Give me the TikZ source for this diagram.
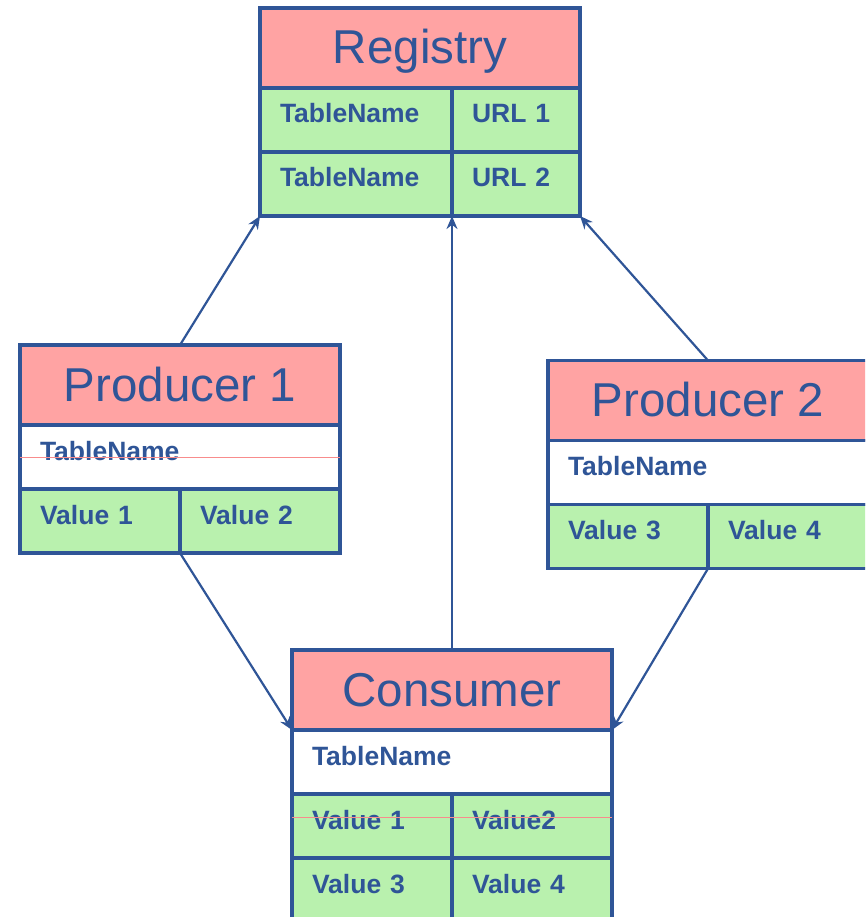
\documentclass[tikz,border=0pt]{standalone}
\usepackage{fontspec}
\setmainfont{Liberation Sans}
\usetikzlibrary{positioning,arrows.meta}
\definecolor{regblue}{RGB}{47,85,151}
\definecolor{headpink}{RGB}{255,163,163}
\definecolor{cellgreen}{RGB}{185,241,174}
\definecolor{straypink}{RGB}{248,140,140}
\tikzset{
  head/.style={draw=regblue, fill=headpink, line width=3.2pt, outer sep=0pt,
    minimum width=320pt, minimum height=80pt, inner sep=0pt,
    text height=34pt, text depth=2pt, text=regblue,
    font=\fontsize{47.5}{47.5}\selectfont},
  cell/.style={draw=regblue, line width=3.2pt, outer sep=0pt, minimum height=64pt,
    inner xsep=20pt, inner ysep=0pt, text height=18pt, text depth=12pt,
    text=regblue, align=left, font=\bfseries\fontsize{26.5}{26.5}\selectfont},
  full/.style={cell, fill=white, text width=280pt},
  wide/.style={cell, fill=cellgreen, text width=152pt},
  half/.style={cell, fill=cellgreen, text width=120pt},
  narrow/.style={cell, fill=cellgreen, text width=88pt},
  link/.style={draw=regblue, line width=2.2pt, -{Stealth[length=13pt,width=11pt]}},
  stray/.style={draw=straypink, line width=1pt}
}
\begin{document}
\begin{tikzpicture}[x=1pt,y=-1pt]
\path[use as bounding box, clip] (0,0) rectangle (865,917);
% registry
\node[head] (reg) at (420,48) {Registry};
\node[wide, anchor=north west] (reg11) at (reg.south west) {TableName};
\node[narrow, right=0pt of reg11] (reg12) {URL 1};
\node[wide, below=0pt of reg11] (reg21) {TableName};
\node[narrow, right=0pt of reg21] (reg22) {URL 2};
% producer 1
\node[head] (prodA) at (180,385) {Producer 1};
\node[full, below=0pt of prodA] (prodAname) {TableName};
\node[half, anchor=north west] (prodA1) at (prodAname.south west) {Value 1};
\node[half, right=0pt of prodA1] (prodA2) {Value 2};
\draw[stray] (prodAname.west) -- (prodAname.east);
% producer 2
\node[head] (prodB) at (708,400.5) {Producer 2};
\node[full, below=0pt of prodB] (prodBname) {TableName};
\node[half, anchor=north west] (prodB1) at (prodBname.south west) {Value 3};
\node[half, right=0pt of prodB1] (prodB2) {Value 4};
% consumer
\node[head] (cons) at (452,690) {Consumer};
\node[full, below=0pt of cons] (consname) {TableName};
\node[half, anchor=north west] (consA1) at (consname.south west) {Value 1};
\node[half, right=0pt of consA1] (consA2) {Value2};
\node[half, below=0pt of consA1] (consB1) {Value 3};
\node[half, right=0pt of consB1] (consB2) {Value 4};
\draw[stray] ([yshift=9pt]consA1.west) -- ([yshift=9pt]consA2.east);
% links
\draw[link] (prodA.north) -- (reg21.south west);
\draw[link] (prodB.north) -- (reg22.south east);
\draw[link] (cons.north) -- (reg21.south east);
\draw[link] (prodA1.south east) -- (cons.south west);
\draw[link] (prodB1.south east) -- (cons.south east);
\end{tikzpicture}
\end{document}
